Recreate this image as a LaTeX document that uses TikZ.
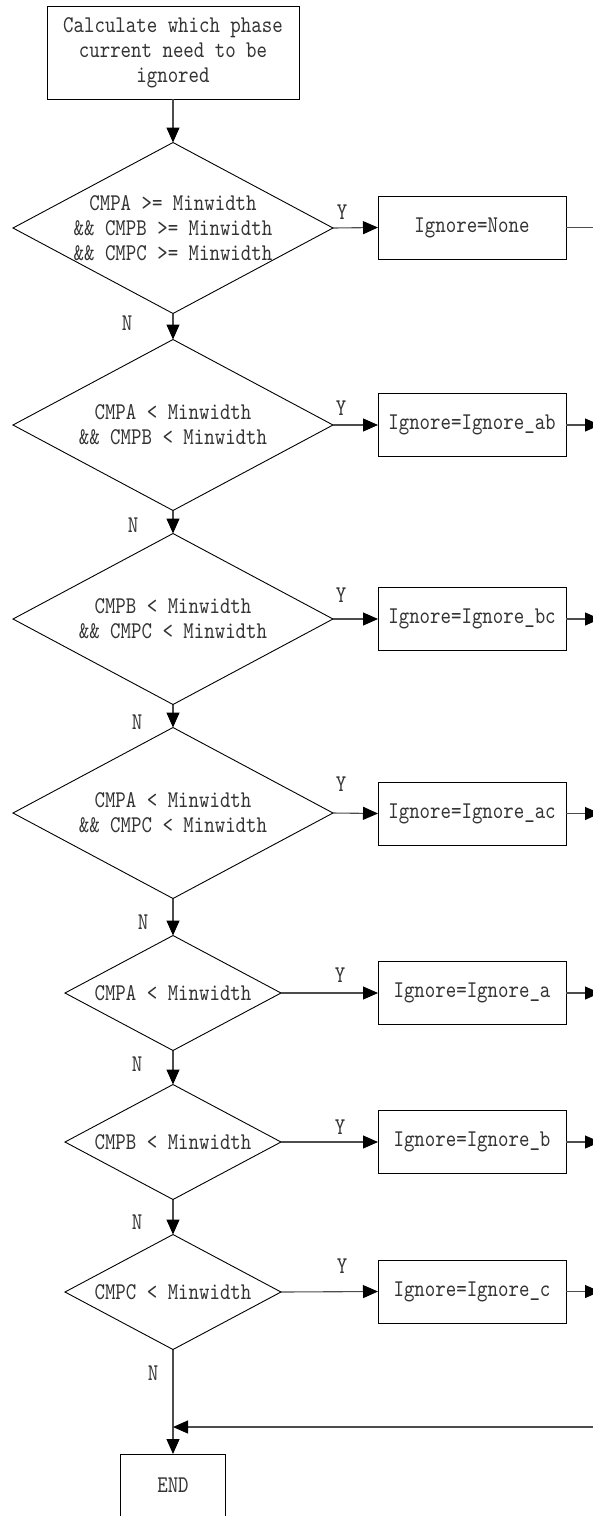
\documentclass[tikz,border=0pt]{standalone}
\usepackage{fontspec}
\newfontfamily\dfont{lmmono10-regular}[Extension=.otf,FakeStretch=0.83]
\usetikzlibrary{shapes.geometric,arrows.meta}
\begin{document}
\begin{tikzpicture}[x=1pt,y=-1pt,
  every node/.style={font=\dfont\fontsize{24}{25}\selectfont, text=black!80},
  proc/.style={draw=black, line width=0.9pt, rectangle, minimum width=188pt, minimum height=63pt, inner sep=0pt, outer sep=0pt},
  bigdec/.style={draw=black, line width=0.9pt, diamond, minimum width=320pt, minimum height=171pt, inner sep=0pt, outer sep=0pt},
  smalldec/.style={draw=black, line width=0.9pt, diamond, minimum width=216pt, minimum height=115pt, inner sep=0pt, outer sep=0pt},
  flow/.style={draw=black!70, line width=1.1pt, -{Triangle[length=15pt,width=13pt,color=black]}},
  plainline/.style={draw=black!70, line width=1.1pt},
  dectext/.style={align=center}
]
\useasboundingbox (0,0) rectangle (593,1516);
\clip (0,0) rectangle (593,1516);

% start box
\node[draw=black, line width=0.9pt, minimum width=252pt, minimum height=93pt, inner sep=0pt, outer sep=0pt, align=center] (start) at (173,52.5) {Calculate which phase\\current need to be\\ignored};

% decisions
\node[bigdec, label={[dectext]center:{CMPA >= Minwidth\\\&\& CMPB >= Minwidth\\\&\& CMPC >= Minwidth}}] (d1) at (173,228) {};
\node[bigdec, label={[dectext]center:{CMPA < Minwidth\\\&\& CMPB < Minwidth}}] (d2) at (173,425) {};
\node[bigdec, label={[dectext]center:{CMPB < Minwidth\\\&\& CMPC < Minwidth}}] (d3) at (173,619) {};
\node[bigdec, label={[dectext]center:{CMPA < Minwidth\\\&\& CMPC < Minwidth}}] (d4) at (173,813) {};
\node[smalldec, label={[dectext]center:{CMPA < Minwidth}}] (d5) at (173,993) {};
\node[smalldec, label={[dectext]center:{CMPB < Minwidth}}] (d6) at (173,1142) {};
\node[smalldec, label={[dectext]center:{CMPC < Minwidth}}] (d7) at (173,1292) {};

% process boxes
\node[proc] (b1) at (472,227.5) {Ignore=None};
\node[proc] (b2) at (472,425) {Ignore=Ignore\_ab};
\node[proc] (b3) at (472,619) {Ignore=Ignore\_bc};
\node[proc] (b4) at (472,813.5) {Ignore=Ignore\_ac};
\node[proc] (b5) at (472,993) {Ignore=Ignore\_a};
\node[proc] (b6) at (472,1142) {Ignore=Ignore\_b};
\node[proc] (b7) at (472,1291.5) {Ignore=Ignore\_c};

% end box
\node[draw=black, line width=0.9pt, minimum width=105pt, minimum height=110pt, inner sep=0pt, outer sep=0pt, anchor=north,
      label={[anchor=center,yshift=-31pt]north:END}] (end) at (173,1454) {};

% rail coordinates (right side, outside the visible area)
\coordinate (r1) at (600,227.5);
\coordinate (r2) at (600,425);
\coordinate (r3) at (600,619);
\coordinate (r4) at (600,813.5);
\coordinate (r5) at (600,993);
\coordinate (r6) at (600,1142);
\coordinate (r7) at (600,1291.5);
\coordinate (rb) at (600,1427);
\coordinate (join) at (173,1427);

% vertical flow
\draw[flow] (start.south) -- (d1.north);
\draw[flow] (d1.south) -- (d2.north);
\draw[flow] (d2.south) -- (d3.north);
\draw[flow] (d3.south) -- (d4.north);
\draw[flow] (d4.south) -- (d5.north);
\draw[flow] (d5.south) -- (d6.north);
\draw[flow] (d6.south) -- (d7.north);
\draw[flow] (d7.south) -- (end.north);

% yes branches
\draw[flow] (d1.east) -- (b1.west);
\draw[flow] (d2.east) -- (b2.west);
\draw[flow] (d3.east) -- (b3.west);
\draw[flow] (d4.east) -- (b4.west);
\draw[flow] (d5.east) -- (b5.west);
\draw[flow] (d6.east) -- (b6.west);
\draw[flow] (d7.east) -- (b7.west);

% outputs to the right rail
\draw[plainline] (b1.east) -- (r1) -- (rb);
\draw[flow] (b2.east) -- (r2);
\draw[flow] (b3.east) -- (r3);
\draw[flow] (b4.east) -- (r4);
\draw[flow] (b5.east) -- (r5);
\draw[flow] (b6.east) -- (r6);
\draw[flow] (b7.east) -- (r7);
\draw[flow] (rb) -- (join);

% labels
\node (y1) at (342,212) {Y};
\node (y2) at (341,408) {Y};
\node (y3) at (341,595) {Y};
\node (y4) at (341,784) {Y};
\node (y5) at (340,975) {Y};
\node (y6) at (340,1127) {Y};
\node (y7) at (342,1266) {Y};
\node (n1) at (127,323) {N};
\node (n2) at (133,525) {N};
\node (n3) at (137,722) {N};
\node (n4) at (143,922) {N};
\node (n5) at (137,1064) {N};
\node (n6) at (137,1222) {N};
\node (n7) at (153,1373) {N};
\end{tikzpicture}
\end{document}
